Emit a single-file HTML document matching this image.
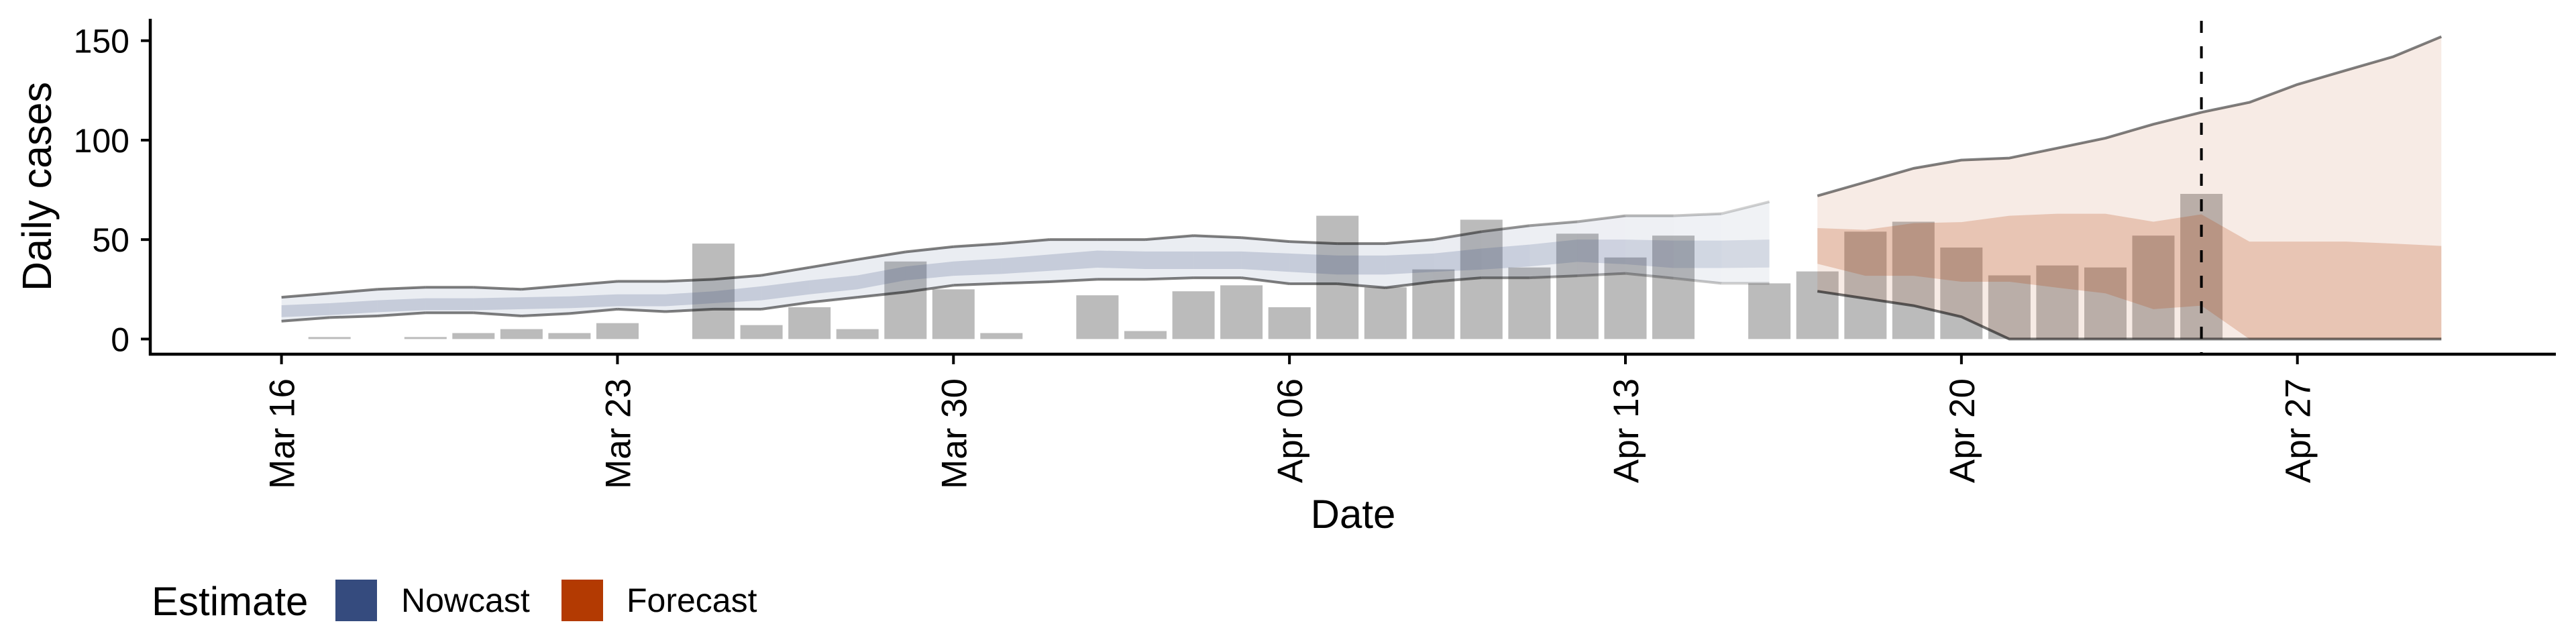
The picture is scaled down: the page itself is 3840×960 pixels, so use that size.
<!DOCTYPE html>
<html><head><meta charset="utf-8"><style>
html,body{margin:0;padding:0;background:#fff;}
svg{display:block;font-family:"Liberation Sans",Arial,sans-serif;}
</style></head><body>
<svg id="chart" width="3840" height="960" viewBox="0 0 3840 960" xmlns="http://www.w3.org/2000/svg"></svg>
<script>
// ---- data (day index 0 = Mar 16) ----
const barDays = [1,3,4,5,6,7,8,9,10,11,12,13,14,15,17,18,19,20,21,22,23,24,25,26,27,28,29,31,32,33,34,35,36,37,38,39,40];
const barCases = [1,1,3,5,3,8,0,48,7,16,5,39,25,3,22,4,24,27,16,62,26,35,60,36,53,41,52,28,34,54,59,46,32,37,36,52,73];
const nowDays = [0,1,2,3,4,5,6,7,8,9,10,11,12,13,14,15,16,17,18,19,20,21,22,23,24,25,26,27,28,29,30,31];
const nowUpper = [21,23,25,26,26,25,27,29,29,30,32,36,40,43.8,46.4,48,50,50,50,52,51,49,48,48,50,54,57,59,62,62,63,69];
const nowLower = [9,10.8,11.6,13.2,13.2,11.6,12.8,15,13.8,15,15,18.4,21,23.6,27,28,28.8,30,30,30.8,30.8,27.8,27.8,25.8,28.8,30.8,30.8,31.8,33,30.6,28,28];
const nowInnerHi = [17,18,19.5,20.5,20.5,21,21.5,22.5,22.5,24,26.5,29.5,32,36.5,39,40.5,42.5,44.5,44,44,44,43,42,42,43,45.5,47.5,50,50,49.5,49.5,50];
const nowInnerLo = [11,12,13.5,14.5,14.5,15,15.5,16.5,16.5,18,19.5,22.5,25,29.5,31.8,32.7,34.3,35.9,35.2,35.2,35.2,33.8,32.4,32.4,33.8,34.9,36.5,38.8,37.6,35.7,35.7,36];
const fcDays = [32,33,34,35,36,37,38,39,40,41,42,43,44,45];
const fcUpper = [72,78.9,85.8,90,91,96,101,108,114,119,128,135,142,152];
const fcLower = [24,20.4,16.8,11.2,0,0,0,0,0,0,0,0,0,0];
const fcInnerHi = [55.8,54.9,58.2,58.8,62,63,63,59,62.7,49,49,49,48,46.8];
const fcInnerLo = [37.8,31.8,31.8,28.8,28.8,25.8,23,15,16.8,0,0,0,0,0];
const fadeStart = 24, fadeEnd = 31; // partial-data nowcast fades between these days
const dashedDay = 40;     // Apr 25
const yTicks = [0,50,100,150];
const xTickDays = [0,7,14,21,28,35,42];
const xTickLabels = ["Mar 16","Mar 23","Mar 30","Apr 06","Apr 13","Apr 20","Apr 27"];

// ---- scales ----
const X0 = 419.6, DAY = 71.55, Y0 = 505.4, PER = 2.965;
const x = d => X0 + d*DAY;
const y = v => Y0 - v*PER;
const NS = "http://www.w3.org/2000/svg";
const svg = document.getElementById('chart');
function mk(tag, attrs, parent){const e=document.createElementNS(NS,tag);for(const k in attrs)e.setAttribute(k,attrs[k]);(parent||svg).appendChild(e);return e;}
function areaPath(days, hi, lo){
  let p=days.map((d,i)=>(i?'L':'M')+x(d).toFixed(1)+','+y(hi[i]).toFixed(1)).join('');
  p+=days.map((d,i)=>i).reverse().map(i=>'L'+x(days[i]).toFixed(1)+','+y(lo[i]).toFixed(1)).join('');
  return p+'Z';
}
function linePath(days, v){
  return days.map((d,i)=>(i?'L':'M')+x(d).toFixed(1)+','+y(v[i]).toFixed(1)).join('');
}
function fadeK(d){ if(d<fadeStart) return 1; return 1 - 0.7*Math.min(1,(d-fadeStart)/(fadeEnd-fadeStart)); }

// bars
const gb = mk('g',{});


barDays.forEach((d,i)=>{
  const r = mk('rect',{x:(x(d)-31.5).toFixed(1), y:y(barCases[i]).toFixed(1), width:63, height:(barCases[i]*PER).toFixed(1), fill:'#bbbbbb'}, gb);
  
  
});

// nowcast bands (segment-wise for fading)
const gn = mk('g',{});


const gnl = mk('g',{fill:'none','stroke-width':4,'stroke-linejoin':'round'});


for(let i=0;i<nowDays.length-1;i++){
  const k = fadeK((nowDays[i]+nowDays[i+1])/2);
  const ds=[nowDays[i],nowDays[i+1]];
  const sl=(a)=>[a[i],a[i+1]];
  mk('path',{d:areaPath(ds,sl(nowUpper),sl(nowLower)),fill:`rgba(53,75,126,${(0.1*(k<1?0.6+0.4*k:1)).toFixed(3)})`,stroke:'none'},gn);
  mk('path',{d:areaPath(ds,sl(nowInnerHi),sl(nowInnerLo)),fill:`rgba(53,75,126,${(0.2*(k<1?0.6+0.4*k:1)).toFixed(3)})`},gn);
  mk('path',{d:linePath(ds,sl(nowUpper)),stroke:`rgba(0,0,0,${(0.5*k).toFixed(3)})`},gnl);
  mk('path',{d:linePath(ds,sl(nowLower)),stroke:`rgba(0,0,0,${(0.5*k).toFixed(3)})`},gnl);
}

// forecast bands
const gf = mk('g',{});


mk('path',{d:areaPath(fcDays,fcUpper,fcLower),fill:'rgba(179,58,2,0.1)'},gf);
mk('path',{d:areaPath(fcDays,fcInnerHi,fcInnerLo),fill:'rgba(179,58,2,0.21)'},gf);

const gl = mk('g',{fill:'none','stroke-width':4,'stroke-linejoin':'round'});


mk('path',{d:linePath(fcDays,fcUpper),stroke:'rgba(0,0,0,0.5)'},gl);
mk('path',{d:linePath(fcDays,fcLower),stroke:'rgba(0,0,0,0.55)'},gl);

// dashed line
const dl = mk('line',{x1:x(dashedDay),x2:x(dashedDay),y1:31,y2:528,stroke:'#000','stroke-width':4,'stroke-dasharray':'18,20'});



// axes
const ax = mk('g',{stroke:'#000','stroke-width':4.5});


mk('line',{x1:224,y1:28,x2:224,y2:530},ax);
mk('line',{x1:222,y1:528,x2:3810,y2:528},ax);

yTicks.forEach(v=>{
  mk('line',{x1:210,x2:224,y1:y(v),y2:y(v),stroke:'#000','stroke-width':4});
  const t = mk('text',{x:193,y:y(v)+18,'text-anchor':'end','font-size':50,fill:'#000'});
  t.textContent = v;
  
  
});
xTickDays.forEach((d,i)=>{
  mk('line',{x1:x(d),x2:x(d),y1:528,y2:543,stroke:'#000','stroke-width':4});
  const t = mk('text',{x:0,y:0,'text-anchor':'end','font-size':53,fill:'#000',transform:`translate(${(x(d)+19).toFixed(1)},564) rotate(-90)`});
  t.textContent = xTickLabels[i];
  
  
});

const yt = mk('text',{x:0,y:0,'text-anchor':'middle','font-size':61,fill:'#000',transform:'translate(76,278) rotate(-90)'});
yt.textContent='Daily cases';


const xt = mk('text',{x:2017,y:787,'text-anchor':'middle','font-size':60,fill:'#000'});
xt.textContent='Date';



// legend
const lg = mk('g',{});


const lt = mk('text',{x:226,y:917,'font-size':60,fill:'#000'},lg);
lt.textContent='Estimate';


const r1 = mk('rect',{x:500,y:864,width:62,height:62,fill:'#354b7e'},lg);


const t1 = mk('text',{x:598,y:912,'font-size':50,fill:'#000'},lg);
t1.textContent='Nowcast';


const r2 = mk('rect',{x:837,y:864,width:62,height:62,fill:'#b33a02'},lg);


const t2 = mk('text',{x:934,y:912,'font-size':50,fill:'#000'},lg);
t2.textContent='Forecast';


</script>
</body></html>
